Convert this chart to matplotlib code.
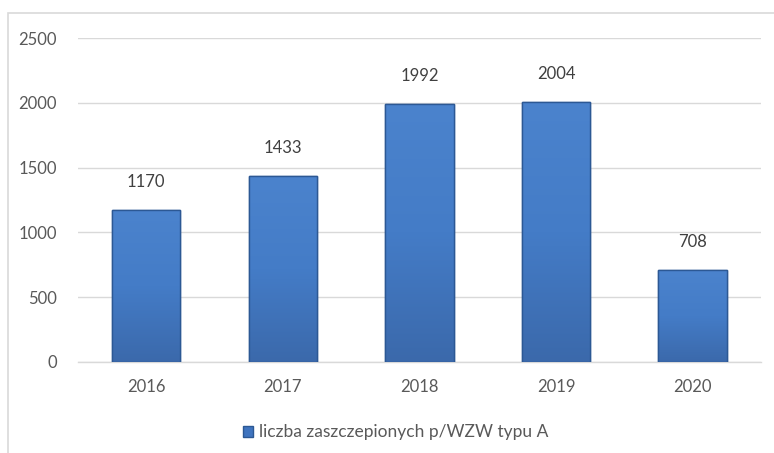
import numpy as np
import matplotlib.pyplot as plt
from matplotlib.colors import LinearSegmentedColormap
from matplotlib.patches import Rectangle

years = ['2016', '2017', '2018', '2019', '2020']
values = [1170, 1433, 1992, 2004, 708]
series_name = 'liczba zaszczepionych p/WZW typu A'

plt.rcParams['font.family'] = ['Lato', 'DejaVu Sans']

fig = plt.figure(figsize=(7.74, 4.53), dpi=100)
ax = fig.add_axes([0.1008, 0.2009, 0.8822, 0.7152])

# thin frame round the chart (only top and left show in the crop)
fig.patches.append(Rectangle((0.0097, -0.1), 1.2, 1.0703, transform=fig.transFigure,
                             fill=False, edgecolor='#d9d9d9', linewidth=1.2))

x = np.arange(len(years))
bars = ax.bar(x, values, width=0.5, color='#3f74bf', edgecolor='#2c5894',
              linewidth=1.0, zorder=3, label=series_name)

# soft vertical shading inside each bar
shade = LinearSegmentedColormap.from_list('shade', ['#3b69ab', '#447cc7', '#4b83cd'])
grad = np.linspace(0, 1, 256).reshape(-1, 1)
for b in bars:
    x0, w, h = b.get_x(), b.get_width(), b.get_height()
    im = ax.imshow(grad, cmap=shade, origin='lower', aspect='auto',
                   extent=(x0, x0 + w, 0, h), zorder=3.5)
    im.set_clip_path(b)
    ax.add_patch(Rectangle((x0, 0), w, h, fill=False, edgecolor='#2c5894',
                           linewidth=1.0, zorder=4))

for xi, v in zip(x, values):
    ax.annotate(str(v), (xi, v), xytext=(0, 14.5), textcoords='offset points',
                ha='center', va='bottom', fontsize=12, color='#404040')

ax.set_xlim(-0.5, len(years) - 0.5)
ax.set_ylim(0, 2500)
ax.set_yticks(range(0, 2501, 500))
ax.set_xticks(x)
ax.set_xticklabels(years)
ax.tick_params(axis='both', length=0, labelsize=12, labelcolor='#595959')
ax.tick_params(axis='y', pad=15)
ax.tick_params(axis='x', pad=12.5)
ax.grid(axis='y', color='#d9d9d9', linewidth=1.0, zorder=0)
for s in ['top', 'right', 'left']:
    ax.spines[s].set_visible(False)
ax.spines['bottom'].set_color('#d9d9d9')
ax.spines['bottom'].set_linewidth(1.0)

leg = fig.legend(handles=[bars], labels=[series_name], loc='center',
                 bbox_to_anchor=(0.511, 0.046), frameon=False, fontsize=12.5,
                 handlelength=0.6, handleheight=0.6, handletextpad=0.3)
for t in leg.get_texts():
    t.set_color('#595959')

fig.savefig('out.png', dpi=100)
